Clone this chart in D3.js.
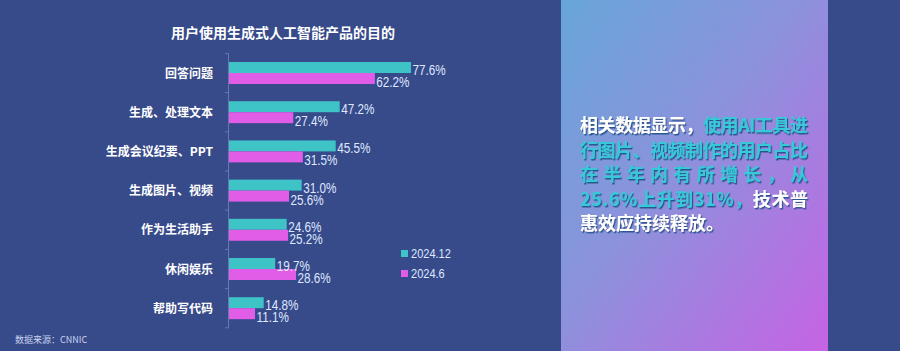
<!DOCTYPE html>
<html>
<head>
<meta charset="utf-8">
<script src="https://cdn.jsdelivr.net/npm/d3@7/dist/d3.min.js"></script>
<style>
  html, body { margin: 0; padding: 0; background: #374a8a; }
  svg { display: block; }
  text { font-family: "Noto Sans CJK SC", sans-serif; }
  .num { font-family: "Liberation Sans", "DejaVu Sans", sans-serif; }
</style>
</head>
<body>
<svg id="chart" width="900" height="351"></svg>
<script>
// data
const categories = ["回答问题", "生成、处理文本", "生成会议纪要、PPT", "生成图片、视频", "作为生活助手", "休闲娱乐", "帮助写代码"];
const series = ["2024.12", "2024.6"];
const dec2024 = [77.6, 47.2, 45.5, 31.0, 24.6, 19.7, 14.8];
const jun2024 = [62.2, 27.4, 31.5, 25.6, 25.2, 28.6, 11.1];
const colors = ["#3ec4c6", "#e15de8"];

const title = "用户使用生成式人工智能产品的目的";
const source = "数据来源：CNNIC";
// side note, each line split into [text, highlighted]
const noteLines = [
  [["相关数据显示，", false], ["使用AI工具进", true]],
  [["行图片、视频制作的用户占比", true]],
  [["在半年内有所增长，从", true]],
  [["25.6%上升到31%，", true], ["技术普", false]],
  [["惠效应持续释放。", false]]
];

const svg = d3.select("#chart");

// gradient panel on the right
const defs = svg.append("defs");
const grad = defs.append("linearGradient").attr("id", "panel")
  .attr("x1", "0%").attr("y1", "0%").attr("x2", "100%").attr("y2", "100%");
grad.append("stop").attr("offset", "0%").attr("stop-color", "#67a6d9");
grad.append("stop").attr("offset", "45%").attr("stop-color", "#8c92dc");
grad.append("stop").attr("offset", "100%").attr("stop-color", "#c663e4");

const shadow = defs.append("filter").attr("id", "shadow")
  .attr("x", "-10%").attr("y", "-20%").attr("width", "130%").attr("height", "160%");
shadow.append("feDropShadow").attr("dx", 1.2).attr("dy", 1.5).attr("stdDeviation", 0.4)
  .attr("flood-color", "#1c4f86").attr("flood-opacity", 0.9);

svg.append("rect")
  .attr("x", 561).attr("y", 0).attr("width", 267).attr("height", 351)
  .attr("fill", "url(#panel)");

// title
svg.append("text")
  .attr("x", 283).attr("y", 38)
  .attr("text-anchor", "middle")
  .attr("fill", "#ffffff")
  .attr("font-size", 14)
  .attr("font-weight", 700)
  .text(title);

// scales
const x = d3.scaleLinear().domain([0, 100]).range([229, 463.5]);
const y0 = d3.scaleBand().domain(categories).range([53.4, 327.8])
  .paddingInner(0.44).paddingOuter(0.22);
const y1 = d3.scaleBand().domain(series).range([0, y0.bandwidth()]);

// axis line with ticks at band boundaries
const axis = svg.append("g").attr("stroke", "#6878ad").attr("stroke-width", 1);
axis.append("line")
  .attr("x1", x(0) - 0.5).attr("x2", x(0) - 0.5)
  .attr("y1", y0.range()[0]).attr("y2", y0.range()[1]);
const bounds = d3.range(categories.length + 1).map(i => y0.range()[0] + i * y0.step());
axis.selectAll(".tk").data(bounds).join("line")
  .attr("x1", x(0) - 4).attr("x2", x(0) - 0.5)
  .attr("y1", d => d).attr("y2", d => d);

// category labels
svg.append("g").selectAll("text").data(categories).join("text")
  .attr("x", 213)
  .attr("y", d => y0(d) + y0.bandwidth() / 2 + 4.5)
  .attr("text-anchor", "end")
  .attr("fill", "#ffffff")
  .attr("font-size", 12)
  .attr("font-weight", 700)
  .text(d => d);

// bars
const values = [dec2024, jun2024];
const rows = categories.map((c, i) => series.map((s, j) => ({ c, s, j, v: values[j][i] })));

const groups = svg.append("g").selectAll("g").data(rows).join("g")
  .attr("transform", d => `translate(0,${y0(d[0].c)})`);

groups.selectAll("rect").data(d => d).join("rect")
  .attr("x", x(0))
  .attr("y", d => y1(d.s))
  .attr("width", d => x(d.v) - x(0))
  .attr("height", y1.bandwidth())
  .attr("fill", d => colors[d.j]);

// value labels, squeezed horizontally like the narrow face in the reference
groups.selectAll("text").data(d => d).join("text")
  .attr("class", "num")
  .attr("transform", d => `translate(${x(d.v) + 1.5},${y1(d.s) + y1.bandwidth() / 2 + 7.5 + d.j}) scale(0.78,1)`)
  .attr("fill", "#dfe8ff")
  .attr("font-size", 15)
  .text(d => d.v.toFixed(1) + "%");

// legend
const legend = svg.append("g").selectAll("g").data(series).join("g")
  .attr("transform", (d, i) => `translate(401,${250 + i * 20})`);
legend.append("rect")
  .attr("width", 7).attr("height", 7)
  .attr("fill", (d, i) => colors[i]);
legend.append("text")
  .attr("class", "num")
  .attr("transform", "translate(10,8) scale(0.85,1)")
  .attr("fill", "#dfe8ff")
  .attr("font-size", 13)
  .text(d => d);

// source
svg.append("text")
  .attr("x", 15).attr("y", 343)
  .attr("fill", "#c9d3f0")
  .attr("font-size", 9)
  .text(source);

// side note text
const note = svg.append("g");
noteLines.forEach((line, i) => {
  const t = note.append("text")
    .attr("x", 580)
    .attr("y", 132 + i * 24.5)
    .attr("font-size", 18)
    .attr("font-weight", 700)
    .attr("filter", "url(#shadow)");
  if (i < noteLines.length - 1) {
    t.attr("textLength", 228).attr("lengthAdjust", "spacing");
  }
  line.forEach(([s, hi]) => {
    t.append("tspan")
      .attr("fill", hi ? "#37c9d9" : "#ffffff")
      .text(s);
  });
});
</script>
</body>
</html>
